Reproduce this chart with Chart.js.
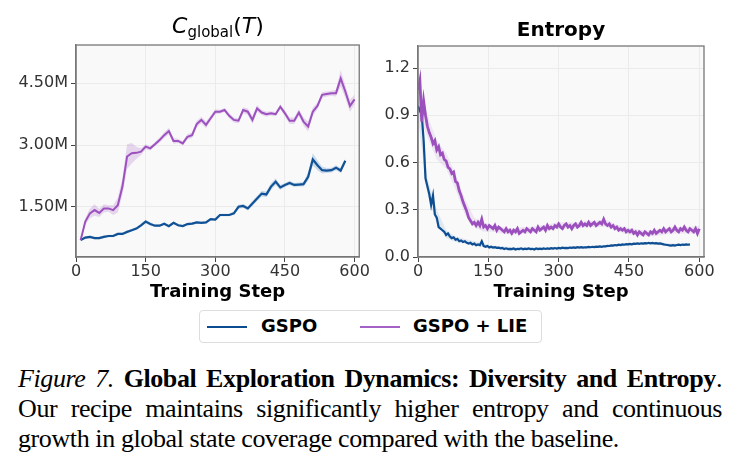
<!DOCTYPE html>
<html>
<head>
<meta charset="utf-8">
<script src="https://cdn.jsdelivr.net/npm/chart.js@4.4.1/dist/chart.umd.min.js"></script>
<style>
  body { margin: 0; background: #fff; width: 740px; height: 473px; position: relative; overflow: hidden; font-family: "DejaVu Sans", sans-serif; }
  .panel { position: absolute; top: 0; width: 370px; height: 303px; }
  #leftPanel { left: 0; }
  #rightPanel { left: 370px; }
  .title { position: absolute; top: 14px; width: 240px; text-align: center; color: #000; white-space: nowrap; }
  #leftTitle { left: 98px; font-size: 22px; top: 13px; }
  #leftTitle sub { font-size: 15px; vertical-align: -4px; }
  #rightTitle { left: 441px; font-size: 20px; font-weight: bold; top: 17px; }
  .legend { position: absolute; left: 199px; top: 310px; width: 343px; height: 33px; border: 1px solid #ddd; border-radius: 4px; box-sizing: border-box; background: #fff; }
  .legend .swatch { position: absolute; top: 15px; width: 40px; height: 2px; }
  .legend .label { position: absolute; top: 4px; font-size: 18px; font-weight: bold; color: #000; }
  .caption { position: absolute; left: 18px; width: 704px; font-family: "Liberation Serif", "Times New Roman", serif; font-size: 26px; letter-spacing: -0.4px; color: #000; line-height: 30px; }
  .caption div { white-space: nowrap; }
  .caption .just { text-align: justify; text-align-last: justify; white-space: normal; }
</style>
</head>
<body>
<div class="panel" id="leftPanel"><canvas id="coverageChart" width="370" height="303"></canvas></div>
<div class="panel" id="rightPanel"><canvas id="entropyChart" width="370" height="303"></canvas></div>
<div class="title" id="leftTitle"><i>C</i><sub>global</sub>(<i>T</i>)</div>
<div class="title" id="rightTitle">Entropy</div>

<div class="legend">
  <div class="swatch" style="left:7px;background:#0b4b8f"></div>
  <div class="label" style="left:61px">GSPO</div>
  <div class="swatch" style="left:160px;background:#a461c6"></div>
  <div class="label" style="left:213px">GSPO + LIE</div>
</div>

<div class="caption" style="top:364px">
  <div class="just"><i>Figure 7.</i> <b>Global Exploration Dynamics: Diversity and Entropy</b>.</div>
  <div class="just">Our recipe maintains significantly higher entropy and continuous</div>
  <div>growth in global state coverage compared with the baseline.</div>
</div>

<script>
const BLUE = '#0b4b8f';
const PURPLE = '#9b4fbd';

// left panel: global coverage (millions), logged every 10 steps
const coverageStep = 10;
const coverageLie = [0.69,1.14,1.34,1.42,1.35,1.46,1.46,1.42,1.54,1.99,
  2.72,2.80,2.81,2.84,2.96,2.92,3.02,3.12,3.24,3.34,
  3.10,3.10,3.04,3.20,3.24,3.51,3.61,3.49,3.65,3.81,
  3.81,3.85,3.71,3.61,3.59,3.85,3.81,3.61,3.89,3.79,
  3.75,3.77,3.75,3.93,3.77,3.59,3.59,3.79,3.57,3.45,
  3.81,3.95,4.22,4.24,4.26,4.26,4.62,4.30,3.95,4.11];
const coverageLieSpread = [0.02,0.08,0.12,0.14,0.10,0.10,0.08,0.12,0.18,0.20,
  0.30,0.25,0.15,0.08,0.06,0.05,0.05,0.06,0.07,0.08,
  0.07,0.05,0.05,0.06,0.07,0.08,0.08,0.08,0.06,0.06,
  0.05,0.05,0.06,0.06,0.06,0.07,0.08,0.10,0.08,0.06,
  0.06,0.05,0.05,0.06,0.07,0.08,0.08,0.08,0.10,0.12,
  0.10,0.08,0.07,0.06,0.06,0.08,0.20,0.15,0.15,0.12];
const coverageGspo = [0.69,0.75,0.77,0.74,0.74,0.77,0.79,0.79,0.84,0.84,
  0.89,0.93,0.97,1.05,1.14,1.08,1.04,1.04,1.09,1.03,
  1.11,1.05,1.03,1.08,1.09,1.12,1.11,1.12,1.20,1.19,
  1.30,1.30,1.30,1.34,1.50,1.52,1.46,1.58,1.70,1.82,
  1.80,1.99,2.11,1.97,2.03,2.08,2.03,2.04,2.05,2.23,
  2.65,2.51,2.39,2.38,2.39,2.45,2.38,2.62];
const coverageGspoSpread = [0.02,0.03,0.03,0.03,0.03,0.03,0.03,0.03,0.03,0.03,
  0.03,0.03,0.03,0.04,0.04,0.04,0.03,0.03,0.03,0.03,
  0.03,0.03,0.03,0.03,0.03,0.03,0.03,0.03,0.03,0.03,
  0.03,0.03,0.03,0.04,0.05,0.05,0.05,0.06,0.06,0.07,
  0.07,0.08,0.08,0.06,0.05,0.05,0.05,0.05,0.06,0.10,
  0.15,0.12,0.08,0.06,0.06,0.06,0.06,0.05];
const coverageTicks = [1.5, 3.0, 4.5];

// right panel: entropy, sampled every 4 steps
const entropyStep = 4;
const entropyLie = [1.06,1.12,0.86,0.99,0.90,0.83,0.79,0.76,0.72,0.74,
  0.68,0.70,0.65,0.66,0.62,0.61,0.57,0.56,0.53,0.54,
  0.48,0.47,0.42,0.39,0.35,0.32,0.29,0.25,0.23,0.21,
  0.22,0.20,0.22,0.20,0.24,0.19,0.20,0.18,0.20,0.19,
  0.18,0.20,0.17,0.19,0.18,0.17,0.16,0.18,0.16,0.17,
  0.15,0.17,0.16,0.18,0.15,0.16,0.17,0.16,0.18,0.17,
  0.16,0.18,0.17,0.16,0.19,0.17,0.18,0.19,0.17,0.20,
  0.18,0.19,0.18,0.20,0.19,0.21,0.19,0.18,0.20,0.21,
  0.19,0.20,0.18,0.20,0.21,0.19,0.20,0.22,0.20,0.21,
  0.20,0.22,0.20,0.21,0.22,0.20,0.21,0.22,0.21,0.24,
  0.21,0.20,0.21,0.19,0.20,0.18,0.19,0.17,0.18,0.17,
  0.18,0.16,0.17,0.16,0.17,0.15,0.16,0.14,0.16,0.15,
  0.14,0.16,0.15,0.14,0.16,0.15,0.17,0.15,0.16,0.17,
  0.16,0.18,0.16,0.17,0.18,0.16,0.17,0.19,0.17,0.16,
  0.18,0.17,0.19,0.17,0.16,0.18,0.17,0.16,0.18,0.15,
  0.18];
const entropyGspo = [0.96,0.93,0.90,0.74,0.50,0.45,0.40,0.33,0.39,0.27,
  0.25,0.19,0.18,0.17,0.16,0.14,0.15,0.13,0.12,0.125,
  0.11,0.115,0.10,0.105,0.095,0.10,0.09,0.085,0.09,0.08,
  0.085,0.075,0.08,0.075,0.10,0.07,0.065,0.07,0.06,0.065,
  0.06,0.062,0.058,0.06,0.055,0.057,0.05,0.055,0.05,0.052,
  0.05,0.054,0.048,0.052,0.05,0.055,0.049,0.053,0.05,0.054,
  0.05,0.052,0.048,0.054,0.05,0.053,0.05,0.055,0.051,0.054,
  0.052,0.056,0.053,0.057,0.054,0.058,0.055,0.059,0.056,0.058,
  0.057,0.06,0.058,0.061,0.058,0.062,0.06,0.063,0.06,0.062,
  0.061,0.064,0.062,0.065,0.063,0.066,0.064,0.067,0.065,0.068,
  0.068,0.071,0.07,0.074,0.072,0.076,0.074,0.078,0.076,0.08,
  0.078,0.082,0.08,0.083,0.081,0.085,0.083,0.086,0.084,0.087,
  0.085,0.088,0.086,0.09,0.087,0.089,0.086,0.088,0.085,0.086,
  0.083,0.08,0.078,0.076,0.074,0.072,0.075,0.073,0.076,0.078,
  0.075,0.079,0.077,0.08,0.078,
  0.08];
// shaded bands for entropy, every 20 steps
const entropyBandStep = 20;
const entropyLieHi = [1.15,0.90,0.74,0.66,0.53,0.37,0.25,0.22,0.20,0.19,0.18,0.19,0.19,0.20,0.21,0.22,
  0.22,0.22,0.23,0.23,0.24,0.21,0.19,0.18,0.17,0.17,0.18,0.19,0.19,0.19,0.20];
const entropyLieLo = [0.92,0.76,0.62,0.56,0.43,0.27,0.19,0.16,0.16,0.15,0.14,0.15,0.15,0.16,0.17,0.18,
  0.18,0.18,0.19,0.19,0.19,0.17,0.15,0.14,0.13,0.13,0.14,0.15,0.15,0.15,0.15];
const entropyGspoHi = [1.0,0.50,0.30,0.17,0.13,0.115,0.10,0.085,0.072,0.068,0.062,0.06,0.06,0.06,0.06,
  0.065,0.065,0.07,0.07,0.07,0.075,0.08,0.085,0.09,0.095,0.095,0.09,0.085,0.085,0.085];
const entropyGspoLo = [0.88,0.40,0.21,0.12,0.095,0.085,0.075,0.06,0.052,0.048,0.042,0.043,0.044,0.045,0.045,
  0.05,0.05,0.055,0.055,0.055,0.06,0.065,0.07,0.075,0.08,0.08,0.075,0.07,0.07,0.07];
const entropyTicks = [0, 0.3, 0.6, 0.9, 1.2];

const stepTicks = [0, 150, 300, 450, 600];

function toPoints(values, step, offset) {
  return values.map((v, i) => ({x: offset + i * step, y: v}));
}

const framePlugin = {
  id: 'frame',
  beforeDraw(chart) {
    const {ctx, chartArea: a} = chart;
    ctx.save();
    ctx.fillStyle = '#f9f9f9';
    ctx.fillRect(a.left, a.top, a.width, a.height);
    ctx.restore();
  },
  afterDraw(chart) {
    const {ctx, chartArea: a} = chart;
    ctx.save();
    ctx.strokeStyle = '#777';
    ctx.lineWidth = 1.3;
    ctx.strokeRect(a.left, a.top, a.width, a.height);
    ctx.restore();
  }
};

function band(points, color) {
  return {data: points, borderWidth: 0, pointRadius: 0, backgroundColor: color, fill: false, tension: 0};
}

function line(points, color, width) {
  return {data: points, borderColor: color, borderWidth: width, pointRadius: 0, fill: false, tension: 0};
}

function makeOptions(yMin, yMax, yTicks, yFormat, yWidth, pad) {
  return {
    responsive: false,
    animation: false,
    layout: {padding: pad},
    plugins: {legend: {display: false}, tooltip: {enabled: false}},
    scales: {
      x: {
        type: 'linear', min: 0, max: 610,
        afterBuildTicks: s => { s.ticks = stepTicks.map(v => ({value: v})); },
        afterFit: s => { s.height = 46; },
        ticks: {color: '#333', font: {size: 16, family: 'DejaVu Sans'}, padding: 0, maxRotation: 0, autoSkip: false},
        grid: {color: '#ebebeb', tickColor: '#444', tickLength: 5},
        border: {color: '#777', width: 1.3},
        title: {display: true, text: 'Training Step', color: '#000', font: {size: 18, weight: 'bold', family: 'DejaVu Sans'}, padding: 0}
      },
      y: {
        min: yMin, max: yMax,
        afterBuildTicks: s => { s.ticks = yTicks.map(v => ({value: v})); },
        afterFit: s => { s.width = yWidth; },
        ticks: {color: '#333', font: {size: 16, family: 'DejaVu Sans'}, padding: 3, callback: yFormat},
        grid: {color: '#ebebeb', tickColor: '#444', tickLength: 5},
        border: {color: '#777', width: 1.3}
      }
    }
  };
}

window.addEventListener('load', function() {
  const lieMid = toPoints(coverageLie, coverageStep, coverageStep);
  const lieHi = coverageLie.map((v, i) => ({x: lieMid[i].x, y: v + coverageLieSpread[i]}));
  const lieLo = coverageLie.map((v, i) => ({x: lieMid[i].x, y: v - coverageLieSpread[i]}));
  const gspoMid = toPoints(coverageGspo, coverageStep, coverageStep);
  const gspoHi = coverageGspo.map((v, i) => ({x: gspoMid[i].x, y: v + coverageGspoSpread[i]}));
  const gspoLo = coverageGspo.map((v, i) => ({x: gspoMid[i].x, y: v - coverageGspoSpread[i]}));

  const lieHiDs = band(lieHi, 'rgba(160, 90, 195, 0.22)');
  lieHiDs.fill = '+1';
  const gspoHiDs = band(gspoHi, 'rgba(40, 110, 180, 0.22)');
  gspoHiDs.fill = '+1';

  new Chart(document.getElementById('coverageChart'), {
    type: 'line',
    data: {datasets: [
      lieHiDs, band(lieLo, 'transparent'),
      gspoHiDs, band(gspoLo, 'transparent'),
      line(lieMid, PURPLE, 2),
      line(gspoMid, BLUE, 2.2)
    ]},
    options: makeOptions(0.28, 5.43, coverageTicks, v => v.toFixed(2) + 'M', 76, {top: 45, right: 8, left: 0, bottom: 0}),
    plugins: [framePlugin]
  });

  const entLieHiDs = band(toPoints(entropyLieHi, entropyBandStep, 0), 'rgba(160, 90, 195, 0.12)');
  entLieHiDs.fill = '+1';
  const entGspoHiDs = band(toPoints(entropyGspoHi, entropyBandStep, 0), 'rgba(40, 110, 180, 0.12)');
  entGspoHiDs.fill = '+1';

  new Chart(document.getElementById('entropyChart'), {
    type: 'line',
    data: {datasets: [
      entLieHiDs, band(toPoints(entropyLieLo, entropyBandStep, 0), 'transparent'),
      entGspoHiDs, band(toPoints(entropyGspoLo, entropyBandStep, 0), 'transparent'),
      line(toPoints(entropyLie, entropyStep, 0), PURPLE, 2.8),
      line(toPoints(entropyGspo, entropyStep, 0), BLUE, 2.2)
    ]},
    options: makeOptions(0, 1.34, entropyTicks, v => v.toFixed(1), 48, {top: 46, right: 36, left: 0, bottom: 0}),
    plugins: [framePlugin]
  });
});
</script>
</body>
</html>
